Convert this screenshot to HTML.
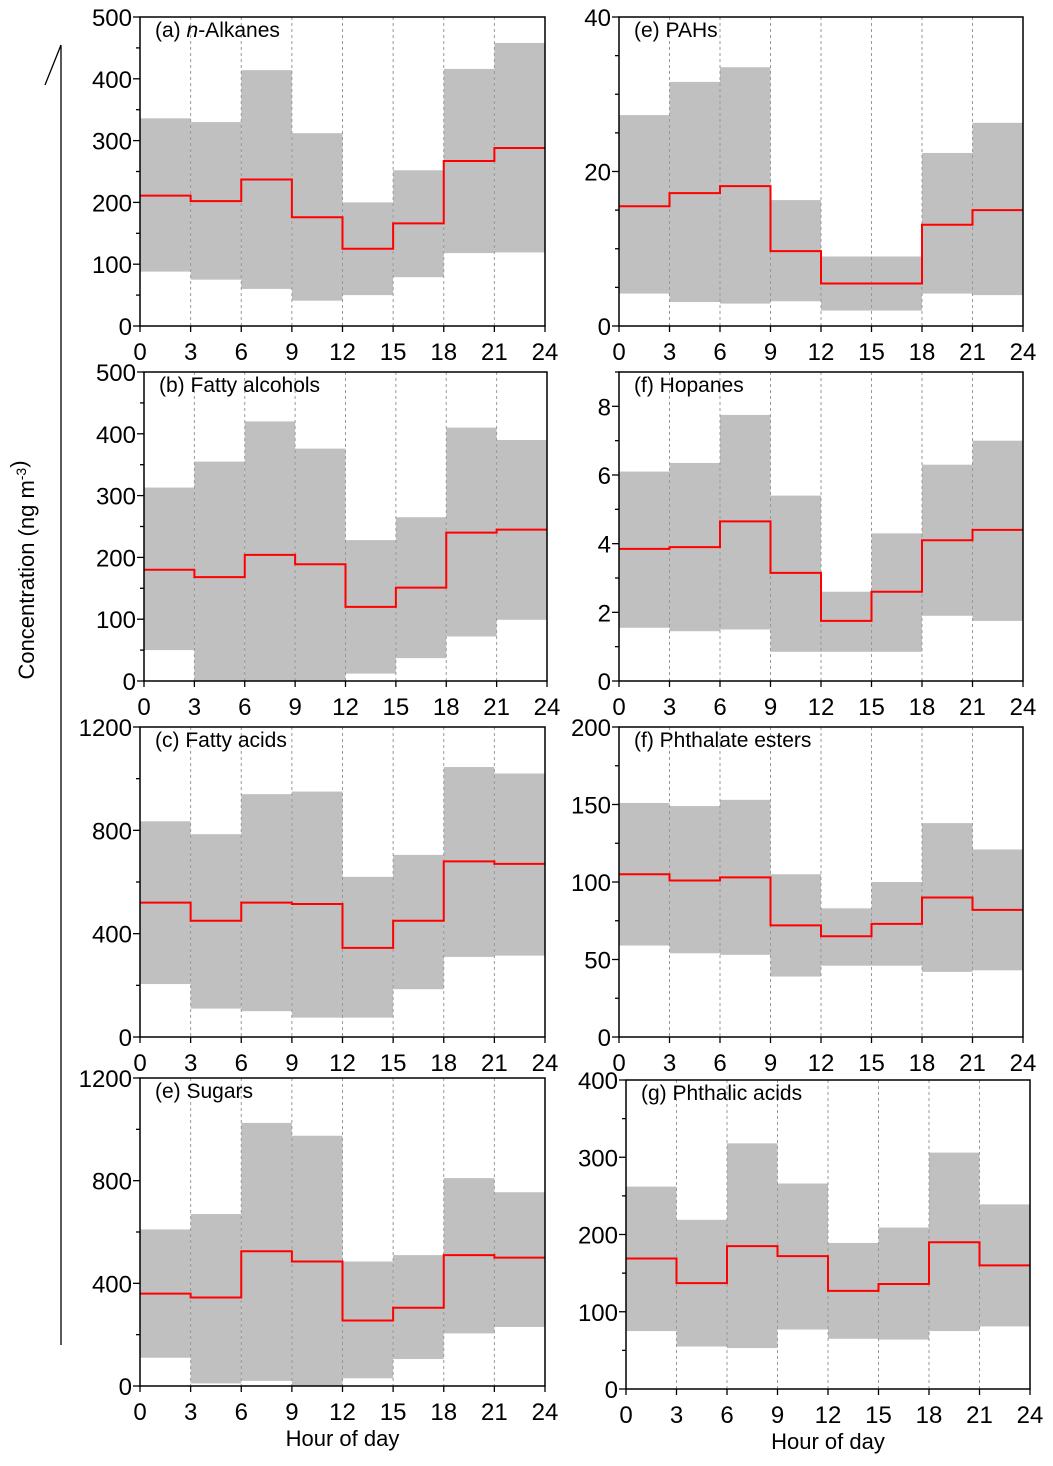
<!DOCTYPE html>
<html><head><meta charset="utf-8"><style>
body{margin:0;background:#fff}
svg{display:block;font-family:"Liberation Sans",Arial,sans-serif}
</style></head><body>
<svg id="chart" width="1053" height="1466" viewBox="0 0 1053 1466">
<line x1="61" y1="45" x2="61" y2="1345" stroke="#000" stroke-width="1.3"/>
<line x1="45" y1="85" x2="61" y2="45" stroke="#000" stroke-width="1.3"/>
<text transform="translate(34,570) rotate(-90)" text-anchor="middle" font-size="22">Concentration (ng m<tspan dy="-8" font-size="14">-3</tspan>)</text>
</svg>
<script>
const hours=[0,3,6,9,12,15,18,21,24];
const aUpper=[336,330,414,312,200,252,416,458], aMean=[211,202,237,176,125,166,267,288], aLower=[88,75,60,41,50,79,118,119];
const eUpper=[27.3,31.6,33.5,16.3,9,9,22.4,26.3], eMean=[15.5,17.2,18.1,9.7,5.5,5.5,13.1,15], eLower=[4.2,3.1,2.9,3.2,2,2,4.2,4];
const bUpper=[313,355,420,376,228,265,410,390], bMean=[180,168,204,189,120,151,240,245], bLower=[50,0,0,0,12,37,72,99];
const fUpper=[6.1,6.35,7.75,5.4,2.6,4.3,6.3,7.0], fMean=[3.85,3.9,4.65,3.15,1.75,2.6,4.1,4.4], fLower=[1.55,1.45,1.5,0.85,0.85,0.85,1.9,1.75];
const cUpper=[835,785,940,950,620,705,1045,1020], cMean=[520,450,520,515,345,450,680,670], cLower=[205,110,100,75,75,185,310,315];
const pUpper=[151,149,153,105,83,100,138,121], pMean=[105,101,103,72,65,73,90,82], pLower=[59,54,53,39,46,46,42,43];
const dUpper=[610,670,1025,975,485,510,810,755], dMean=[360,345,525,485,255,305,510,500], dLower=[110,10,20,0,30,105,205,230];
const gUpper=[262,219,318,266,189,209,306,239], gMean=[169,137,185,172,127,136,190,160], gLower=[75,55,53,77,65,64,75,81];

const panels=[
 {id:'a',title:['(a) ','n','-Alkanes'],L:140,R:545,T:17,B:326,ymax:500,major:[0,100,200,300,400,500],minor:50,up:aUpper,mean:aMean,lo:aLower,xl:false},
 {id:'e',title:['(e) PAHs'],L:619,R:1023,T:17,B:326,ymax:40,major:[0,20,40],minor:5,up:eUpper,mean:eMean,lo:eLower,xl:false},
 {id:'b',title:['(b) Fatty alcohols'],L:144,R:547,T:372,B:681,ymax:500,major:[0,100,200,300,400,500],minor:50,up:bUpper,mean:bMean,lo:bLower,xl:false},
 {id:'f',title:['(f) Hopanes'],L:619,R:1023,T:372,B:681,ymax:9,major:[0,2,4,6,8],minor:1,up:fUpper,mean:fMean,lo:fLower,xl:false},
 {id:'c',title:['(c) Fatty acids'],L:140,R:545,T:727,B:1037,ymax:1200,major:[0,400,800,1200],minor:200,up:cUpper,mean:cMean,lo:cLower,xl:false},
 {id:'p',title:['(f) Phthalate esters'],L:619,R:1023,T:727,B:1037,ymax:200,major:[0,50,100,150,200],minor:25,up:pUpper,mean:pMean,lo:pLower,xl:false},
 {id:'d',title:['(e) Sugars'],L:140,R:545,T:1078,B:1386,ymax:1200,major:[0,400,800,1200],minor:200,up:dUpper,mean:dMean,lo:dLower,xl:true},
 {id:'g',title:['(g) Phthalic acids'],L:626,R:1030,T:1080,B:1389,ymax:400,major:[0,100,200,300,400],minor:50,up:gUpper,mean:gMean,lo:gLower,xl:true}
];
const svg=document.getElementById('chart');
const NS='http://www.w3.org/2000/svg';
function mk(tag,attrs,parent){const e=document.createElementNS(NS,tag);for(const k in attrs)e.setAttribute(k,attrs[k]);(parent||svg).appendChild(e);return e;}
panels.forEach(p=>{
  const g=mk('g',{});
  
  
  const X=h=>p.L+(p.R-p.L)*h/24;
  const Y=v=>p.B-(p.B-p.T)*v/p.ymax;
  for(let i=0;i<8;i++){
    const r=mk('rect',{x:X(hours[i]),y:Y(p.up[i]),width:X(hours[i+1])-X(hours[i]),height:Y(p.lo[i])-Y(p.up[i]),fill:'#c0c0c0'},g);
    
    
  }
  for(let i=1;i<8;i++){
    const l=mk('line',{x1:X(hours[i]),x2:X(hours[i]),y1:p.T,y2:p.B,stroke:'#999','stroke-width':1,'stroke-dasharray':'3,3'},g);
    
    
  }
  let d='';
  for(let i=0;i<8;i++){d+=(i?'L':'M')+X(hours[i])+','+Y(p.mean[i])+'L'+X(hours[i+1])+','+Y(p.mean[i]);}
  const ml=mk('path',{d:d,fill:'none',stroke:'#ff0000','stroke-width':2},g);
  
  
  const fr=mk('rect',{x:p.L,y:p.T,width:p.R-p.L,height:p.B-p.T,fill:'none',stroke:'#000','stroke-width':1.5},g);
  
  
  for(let v=0;v<=p.ymax+1e-9;v+=p.minor){
    const isMaj=p.major.some(m=>Math.abs(m-v)<1e-9);
    mk('line',{x1:p.L-(isMaj?7:4),x2:p.L,y1:Y(v),y2:Y(v),stroke:'#000','stroke-width':1.3},g);
  }
  p.major.forEach(v=>{
    const t=mk('text',{x:p.L-8,y:Y(v)+9,'text-anchor':'end','font-size':24},g);
    t.textContent=v;
    
    
  });
  hours.forEach(h=>{
    mk('line',{x1:X(h),x2:X(h),y1:p.B,y2:p.B+6,stroke:'#000','stroke-width':1.3},g);
    const t=mk('text',{x:X(h),y:p.B+34,'text-anchor':'middle','font-size':24},g);
    t.textContent=h;
    
    
  });
  const tt=mk('text',{x:p.L+15,y:p.T+20,'font-size':21},g);
  
  
  p.title.forEach((s,i)=>{const ts=mk('tspan',{},tt);ts.textContent=s;if(p.title.length>1&&i===1)ts.setAttribute('font-style','italic');});
  if(p.xl){
    const xt=mk('text',{x:(p.L+p.R)/2,y:p.B+60,'text-anchor':'middle','font-size':22},g);
    xt.textContent='Hour of day';
    
    
  }
});
</script>
</body></html>
